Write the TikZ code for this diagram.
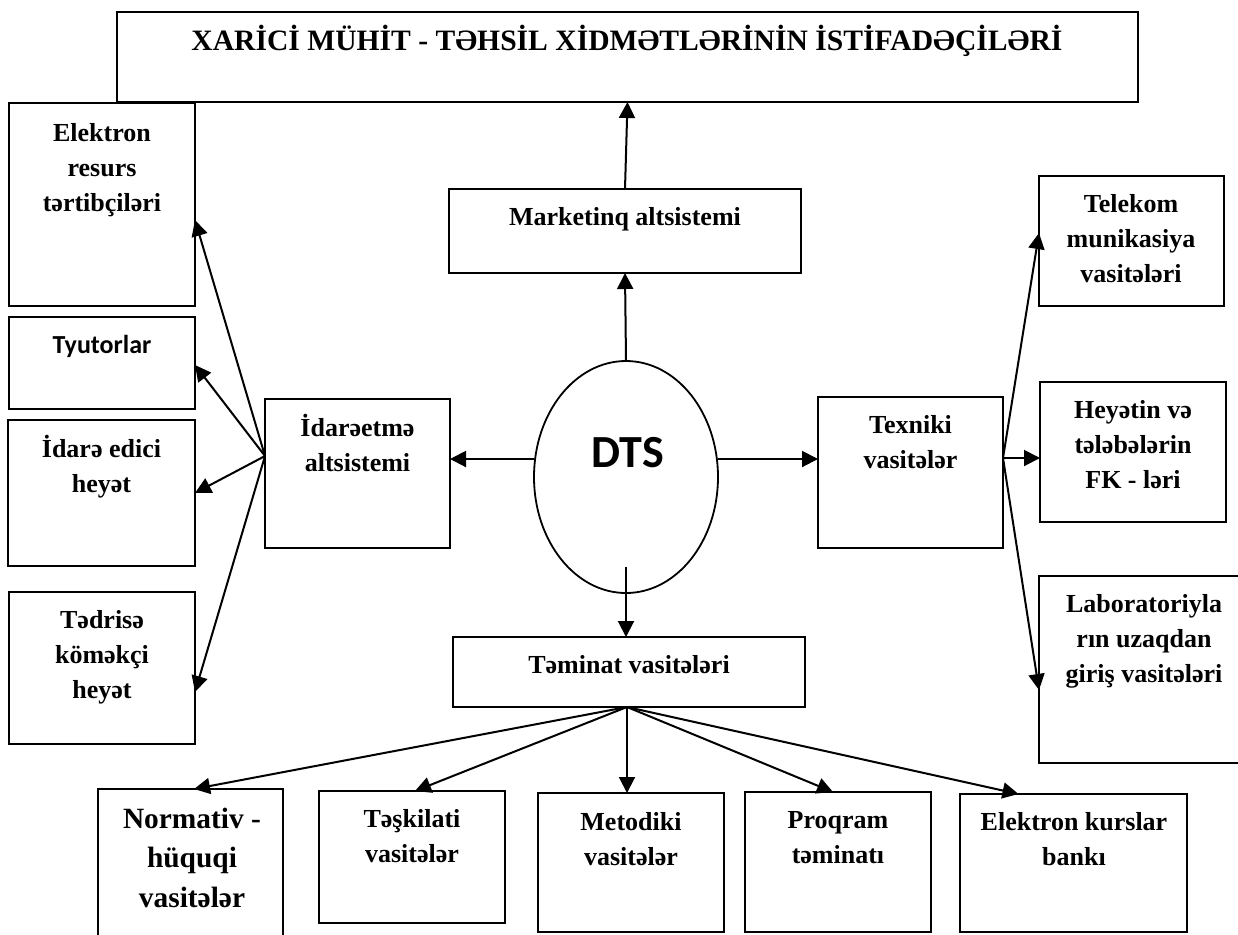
\documentclass[tikz,border=0pt]{standalone}
\usepackage{fontspec}
\setmainfont{Liberation Serif}
\newfontfamily\calibri{Carlito}
\usetikzlibrary{arrows.meta,calc,shapes.geometric}
\tikzset{
  box/.style={draw, line width=1.2pt, inner sep=0pt, outer sep=0pt},
  boxfont/.style={font=\bfseries\fontsize{13}{17.5}\selectfont},
  mtext/.style={boxfont, align=center, anchor=north, inner sep=0pt},
  stext/.style={boxfont, anchor=base, inner sep=0pt},
  arr/.style={line width=1pt, -{Triangle[length=8pt,width=8pt]}},
}
\begin{document}
\begin{tikzpicture}[x=0.5pt,y=-0.5pt]
\useasboundingbox (0,0) rectangle (1238,934);
\fill[white] (0,0) rectangle (1238,934);
% boxes
\node[box, minimum width=510.5pt, minimum height=45pt] (title) at (627.5,57) {};
\node[box, minimum width=93pt, minimum height=101.5pt] (elr) at (102,204.5) {};
\node[box, minimum width=93pt, minimum height=46pt] (tyu) at (102,363) {};
\node[box, minimum width=93.5pt, minimum height=73pt] (ide) at (101.5,493) {};
\node[box, minimum width=93pt, minimum height=76pt] (ted) at (102,668) {};
\node[box, minimum width=92.5pt, minimum height=74.5pt] (ida) at (357.5,473.5) {};
\node[box, minimum width=176pt, minimum height=42pt] (mkt) at (625,231) {};
\node[draw, line width=0.9pt, ellipse, inner sep=0pt, minimum width=92pt, minimum height=116pt] (dts) at (626,477) {};
\node[box, minimum width=92.5pt, minimum height=75.5pt] (tex) at (910.5,472.5) {};
\node[box, minimum width=92.5pt, minimum height=65pt] (tel) at (1131.5,241) {};
\node[box, minimum width=93pt, minimum height=70pt] (hey) at (1133,452) {};
\node[box, minimum width=104.5pt, minimum height=93.5pt] (lab) at (1143.5,669.5) {};
\node[box, minimum width=176pt, minimum height=35pt] (tem) at (629,672) {};
\node[box, minimum width=92.5pt, minimum height=80.5pt] (nor) at (190.5,869.5) {};
\node[box, minimum width=93pt, minimum height=66pt] (tes) at (412,857) {};
\node[box, minimum width=93pt, minimum height=69.5pt] (met) at (631,862.5) {};
\node[box, minimum width=93pt, minimum height=70pt] (pro) at (838,862) {};
\node[box, minimum width=113.5pt, minimum height=69pt] (ekb) at (1073.5,863) {};
% texts
\node[anchor=base, inner sep=0pt, font=\bfseries\fontsize{14.8}{17}\selectfont] (titleT) at (627,50) {XARİCİ MÜHİT - TƏHSİL XİDMƏTLƏRİNİN İSTİFADƏÇİLƏRİ};
\node[mtext] (elrT) at (102,116.5) {\strut Elektron\\resurs\\tərtibçiləri};
\node[anchor=base, inner sep=0pt, font=\calibri\bfseries\fontsize{13}{15}\selectfont] (tyuT) at (102,353) {Tyutorlar};
\node[mtext] (ideT) at (101.5,432.5) {\strut İdarə edici\\heyət};
\node[mtext] (tedT) at (102,603.5) {\strut Tədrisə\\köməkçi\\heyət};
\node[mtext] (idaT) at (357.5,411.5) {\strut İdarəetmə\\altsistemi};
\node[stext] (mktT) at (625,225) {Marketinq altsistemi};
\node[anchor=base, inner sep=0pt, font=\calibri\bfseries\fontsize{23}{27}\selectfont] (dtsT) at (627.5,467) {DTS};
\node[mtext] (texT) at (910.5,408.5) {\strut Texniki\\vasitələr};
\node[mtext] (telT) at (1131,187.5) {\strut Telekom\\munikasiya\\vasitələri};
\node[mtext] (heyT) at (1133,393.5) {\strut Heyətin və\\tələbələrin\\FK - ləri};
\node[mtext] (labT) at (1144,587.5) {\strut Laboratoriyla\\rın uzaqdan\\giriş vasitələri};
\node[stext] (temT) at (629,673) {Təminat vasitələri};
\node[align=center, anchor=north, inner sep=0pt, font=\bfseries\fontsize{14.7}{19.7}\selectfont] (norT) at (192,800.4) {\strut Normativ -\\hüquqi\\vasitələr};
\node[mtext] (tesT) at (412,802.5) {\strut Təşkilati\\vasitələr};
\node[mtext] (metT) at (631,805.5) {\strut Metodiki\\vasitələr};
\node[mtext] (proT) at (838,803.5) {\strut Proqram\\təminatı};
\node[mtext] (ekbT) at (1074,805.5) {\strut Elektron kurslar\\bankı};
% connectors
\draw[arr] (mkt.north) -- (title.south);
\draw[arr] (dts.north) -- (mkt.south);
\coordinate (ds) at ($(dts.south)+(0,-27)$);
\draw[arr] (ds) -- (ds |- tem.north);
\coordinate (dw) at ($(dts.west)+(1,-18)$);
\draw[arr] (dw) -- (dw -| ida.east);
\coordinate (de) at ($(dts.east)+(-1,-18)$);
\draw[arr] (de) -- (de -| tex.west);
\coordinate (fl) at ($(ida.west)+(0,-17.5)$);
\draw[arr] (fl) -- ($(elr.east)+(0,15.5)$);
\draw[arr] (fl) -- ($(tyu.east)+(0,2)$);
\draw[arr] (fl) -- (ide.east);
\draw[arr] (fl) -- ($(ted.east)+(0,24)$);
\coordinate (fr) at ($(tex.east)+(0,-14.5)$);
\draw[arr] (fr) -- ($(tel.west)+(0,-8)$);
\draw[arr] (fr) -- (fr -| hey.west);
\draw[arr] (fr) -- ($(lab.west)+(0,20.5)$);
\coordinate (fb) at ($(tem.south)+(-2,0)$);
\draw[arr] (fb) -- ($(nor.north)+(3.5,0)$);
\draw[arr] (fb) -- ($(tes.north)+(3,0)$);
\draw[arr] (fb) -- (fb |- met.north);
\draw[arr] (fb) -- ($(pro.north)+(-5,0)$);
\draw[arr] (fb) -- ($(ekb.north)+(-55,0)$);
\end{tikzpicture}
\end{document}
